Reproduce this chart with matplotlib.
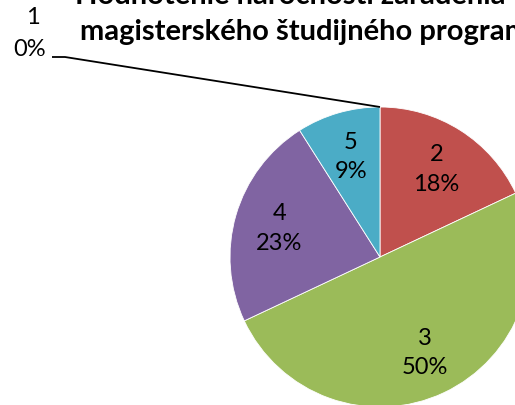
import matplotlib.pyplot as plt
import numpy as np

plt.rcParams['font.family'] = ['Lato', 'DejaVu Sans']

categories = ['1', '2', '3', '4', '5']
values = [0, 18, 50, 23, 9]
colors = ['#4F81BD', '#C0504D', '#9BBB59', '#8064A2', '#4BACC6']
title_lines = ['Hodnotenie náročnosti zaradenia', 'magisterského študijného programu']

W, H = 515, 406
fig = plt.figure(figsize=(W / 100, H / 100), dpi=100)
ax = fig.add_axes([0, 0, 1, 1])

cx, cy, r = 380, H - 258, 150
wedges, _ = ax.pie(values, colors=colors, startangle=90, counterclock=False,
                   center=(cx, cy), radius=r, frame=True,
                   wedgeprops=dict(linewidth=0.6, edgecolor='white'))
ax.set_xlim(0, W)
ax.set_ylim(0, H)
ax.set_aspect('equal')
ax.axis('off')

total = sum(values)
for w, cat, v in zip(wedges, categories, values):
    if v == 0:
        continue
    mid = np.deg2rad((w.theta1 + w.theta2) / 2)
    tx = cx + 0.7 * r * np.cos(mid)
    ty = cy + 0.7 * r * np.sin(mid)
    ax.text(tx, ty, f'{cat}\n{v / total:.0%}', ha='center', va='center',
            fontsize=17, linespacing=1.5, color='black')

# zero slice label with leader line
top = (cx, cy + r)
ax.plot([52, 65, top[0]], [H - 58, H - 58, top[1]], color='black', lw=1.3,
        solid_capstyle='butt')
ax.text(33, H - 18, categories[0], ha='center', va='center', fontsize=17, color='black')
ax.text(30, H - 50, f'{values[0] / total:.0%}', ha='center', va='center', fontsize=17,
        color='black')

ax.text(75, H - 4, title_lines[0], ha='left', va='baseline', fontsize=21,
        fontweight='bold', color='black')
ax.text(80, H - 40, title_lines[1], ha='left', va='baseline', fontsize=21,
        fontweight='bold', color='black')

fig.savefig('out.png', dpi=100)
